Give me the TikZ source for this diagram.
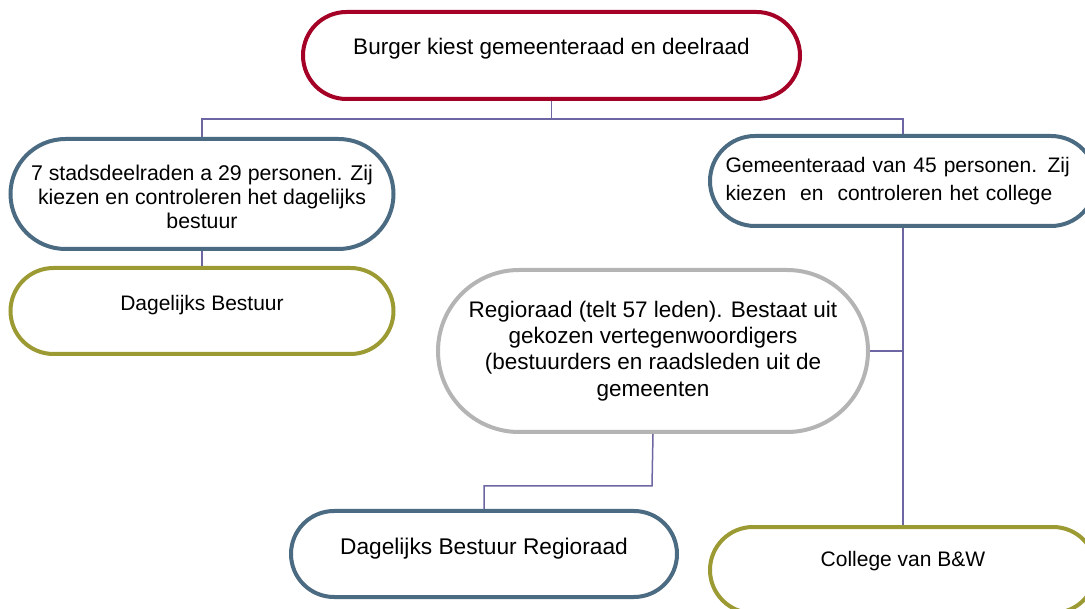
\documentclass[tikz,border=0pt]{standalone}
\usepackage{fontspec}
\setmainfont{Liberation Sans}
\usepackage{tikz}

\definecolor{rood}{HTML}{A50026}
\definecolor{blauw}{HTML}{4B6B82}
\definecolor{olijf}{HTML}{9C9A32}
\definecolor{grijs}{HTML}{B4B4B4}
\definecolor{lijn}{HTML}{6C66A3}

\begin{document}
\begin{tikzpicture}[x=1pt,y=-1pt]

      \useasboundingbox (0,0) rectangle (1085,609);
      \clip (0,0) rectangle (1085,609);

      \begin{scope}[every node/.style={draw,line width=4pt,fill=white,
          font=\fontsize{21}{25}\selectfont,inner sep=0pt}]
        \node[draw=rood,minimum width=497pt,minimum height=87pt,rounded corners=43.5pt,
          font=\fontsize{22.5}{26}\selectfont,text height=16pt,text depth=18pt]
          (burger) at (551.5,55.5) {Burger kiest gemeenteraad en deelraad};
        \node[draw=blauw,minimum width=383pt,minimum height=110pt,rounded corners=55pt,
          align=center,font=\fontsize{21.3}{24}\selectfont] (stad) at (202,194)
          {\\[-3pt]7 stadsdeelraden a 29 personen. Zij\\kiezen en controleren het dagelijks\\bestuur};
        \node[draw=olijf,minimum width=383pt,minimum height=86pt,rounded corners=43pt,
          text height=15pt,text depth=16pt] (db) at (202,311) {Dagelijks Bestuur};
        \node[draw=blauw,minimum width=386pt,minimum height=90pt,rounded corners=45pt,
          text width=355pt,align=left,font=\fontsize{21}{28}\selectfont] (gem) at (903,181)
          {Gemeenteraad van 45 personen. Zij\\kiezen\ \ en\ \ controleren het college};
        \node[draw=grijs,minimum width=430pt,minimum height=162pt,rounded corners=81pt,
          align=center,font=\fontsize{22.5}{26.3}\selectfont] (regio) at (653,351)
          {Regioraad (telt 57 leden). Bestaat uit\\gekozen vertegenwoordigers\\(bestuurders en raadsleden uit de\\gemeenten};
        \node[draw=blauw,minimum width=386pt,minimum height=86pt,rounded corners=43pt,
          font=\fontsize{22.7}{26}\selectfont,text height=16pt,text depth=15pt]
          (dbr) at (484,554) {Dagelijks Bestuur Regioraad};
        \node[draw=olijf,minimum width=386pt,minimum height=86pt,rounded corners=43pt,
          text height=15pt,text depth=22pt] (college) at (903,570) {College van B\&W};
      \end{scope}

      \begin{scope}[every path/.style={draw=lijn,line width=1.5pt}]
        \coordinate (splits) at (551.5,119);
        \coordinate (knik) at (652,486);
        \path (burger) -- (splits);
        \path (stad.north) |- (splits);
        \path (gem.north) |- (splits);
        \path (stad) -- (db);
        \path (gem) -- (college);
        \path (regio.east) -- (regio.east -| gem.south);
        \path (regio.south) -- (knik) -| (dbr.north);
      \end{scope}

    \end{tikzpicture}
\end{document}
